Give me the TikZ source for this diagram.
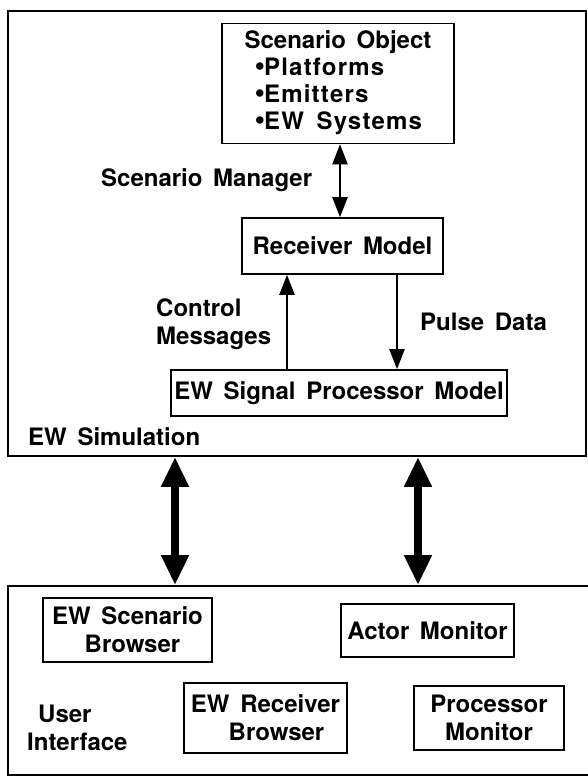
\documentclass[tikz,border=0pt]{standalone}
\usepackage{fontspec}
\setmainfont{TeX Gyre Heros}[WordSpace=1.6]
\newfontfamily\spaced{TeX Gyre Heros}[LetterSpace=5,WordSpace=1.6]
\usetikzlibrary{arrows.meta}
\newcommand{\bul}{\smash{\raisebox{0.5pt}{\fontsize{30}{30}\selectfont\textbullet}}\kern-1pt}
\tikzset{
  box/.style = {draw, line width=1.6pt, inner sep=0pt, align=center},
  frame/.style = {draw, line width=1.8pt, inner sep=0pt},
  lbl/.style = {inner sep=0pt, anchor=west, align=left},
  link/.style = {line width=2.2pt, -{Triangle[length=20pt,width=15pt]}},
  bus/.style = {line width=8pt, {Triangle[length=30pt,width=26pt]}-{Triangle[length=30pt,width=26pt]}}
}
\begin{document}
\begin{tikzpicture}[x=1pt, y=-1pt, font=\fontsize{24}{28}\selectfont\bfseries]
    \useasboundingbox (0,0) rectangle (588,779);
    % EW simulation
    \node[frame, minimum width=578pt, minimum height=445pt] (sim) at (297,233.5) {};
    \node[box, minimum width=232pt, minimum height=120pt] (scen) at (338,83.5)
      {\begin{tabular}{@{}l@{}}
       Scenario Object\\[-1pt]
       \hspace*{10pt}{\spaced\bul Platforms}\\[-1pt]
       \hspace*{10pt}{\spaced\bul Emitters}\\[-1pt]
       \hspace*{10pt}{\spaced\bul EW Systems}
       \end{tabular}};
    \node[box, minimum width=201pt, minimum height=56pt] (recv) at (342.5,246) {Receiver Model};
    \node[box, minimum width=336pt, minimum height=46pt] (proc) at (339,393) {EW Signal Processor Model};
    \node[lbl] (mgr) at (101,180) {Scenario Manager};
    \node[lbl] (ctl) at (156,324) {Control\\Messages};
    \node[lbl] (pls) at (420,322) {Pulse Data};
    \node[lbl] (simlbl) at (28,437) {EW Simulation};
    \draw[link, {Triangle[length=20pt,width=15pt]}-{Triangle[length=20pt,width=15pt]}]
      ([xshift=2pt]scen.south) -- ([xshift=2pt]scen.south |- recv.north);
    \draw[link] ([xshift=-52pt]proc.north) -- ([xshift=-52pt]proc.north |- recv.south);
    \draw[link] ([xshift=58pt]proc.north |- recv.south) -- ([xshift=58pt]proc.north);
    % user interface
    \node[frame, minimum width=587pt, minimum height=189pt] (ui) at (301.5,680.5) {};
    \node[box, minimum width=169pt, minimum height=64pt] (scbr) at (127.5,630) {EW Scenario\\\hspace*{10pt}Browser};
    \node[box, minimum width=173pt, minimum height=53pt] (actm) at (427.5,630.5) {Actor Monitor};
    \node[box, minimum width=163pt, minimum height=70pt] (rcbr) at (265.5,718) {EW Receiver\\\hspace*{22pt}Browser};
    \node[box, minimum width=150pt, minimum height=64pt] (prcm) at (489,718) {Processor\\Monitor};
    \node[lbl] (uilbl) at (27,728) {\hspace*{11pt}User\\Interface};
    % links between the two
    \coordinate (bl) at (175,0);
    \coordinate (br) at (418,0);
    \draw[bus] (bl |- sim.south) -- (bl |- ui.north);
    \draw[bus] (br |- sim.south) -- (br |- ui.north);
  \end{tikzpicture}
\end{document}
